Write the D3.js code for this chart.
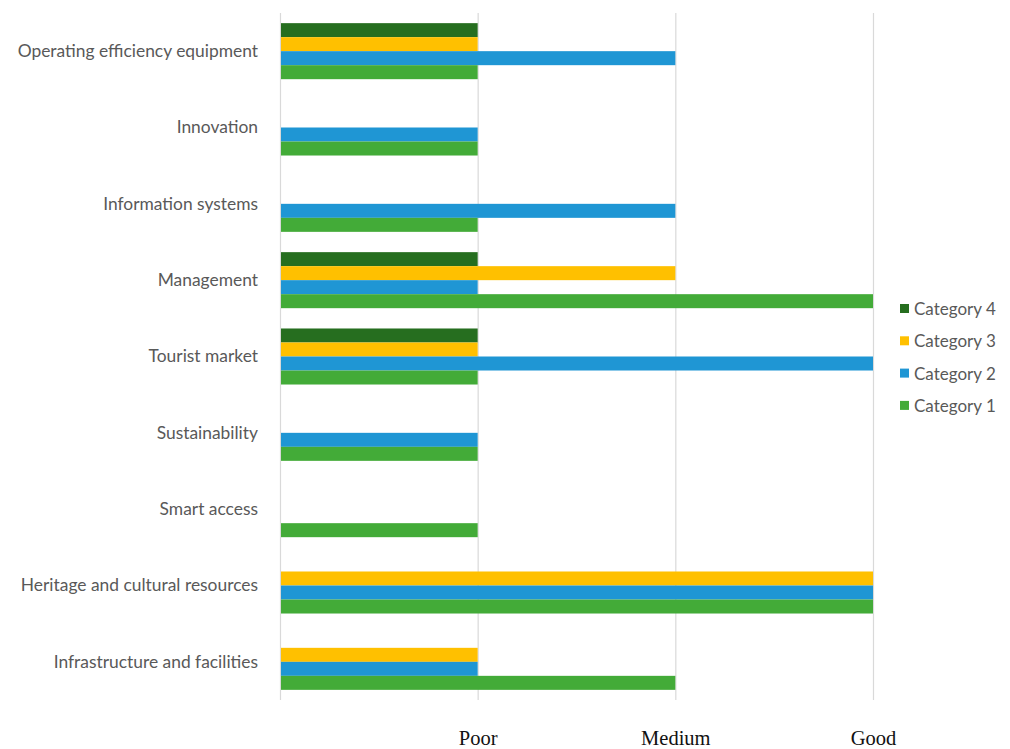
<!DOCTYPE html>
<html>
<head>
<meta charset="utf-8">
<script src="https://cdn.jsdelivr.net/npm/d3@7"></script>
<style>
  body { margin: 0; background: #fff; }
  svg { display: block; }
  .cat-label { font-family: Lato, "Open Sans", sans-serif; font-size: 17.4px; fill: #595959; }
  .legend text { font-family: Lato, "Open Sans", sans-serif; font-size: 17px; fill: #595959; }
  .axis--x text { font-family: "Liberation Serif", "Times New Roman", serif; font-size: 20.5px; fill: #111; }
</style>
</head>
<body>
<svg width="1010" height="749"></svg>
<script>
// categories, top to bottom
var categories = [
  "Operating efficiency equipment",
  "Innovation",
  "Information systems",
  "Management",
  "Tourist market",
  "Sustainability",
  "Smart access",
  "Heritage and cultural resources",
  "Infrastructure and facilities"
];

// 0 = none, 1 = Poor, 2 = Medium, 3 = Good
var category4 = [1, 0, 0, 1, 1, 0, 0, 0, 0];
var category3 = [1, 0, 0, 2, 1, 0, 0, 3, 1];
var category2 = [2, 1, 2, 1, 3, 1, 0, 3, 1];
var category1 = [1, 1, 1, 3, 1, 1, 1, 3, 2];

var seriesNames = ["Category 4", "Category 3", "Category 2", "Category 1"];
var seriesColors = ["#266e1f", "#ffc000", "#1f96d4", "#43ab38"];
var xLabels = ["Poor", "Medium", "Good"];

drawChart();

function drawChart() {
  var svg = d3.select("svg");
  svg.selectAll("*").remove();

  var series = [category4, category3, category2, category1];

  var x = d3.scaleLinear().domain([0, 3]).range([280, 873]);

  var y = d3.scaleBand()
      .domain(categories)
      .range([13, 700])
      .paddingInner(0.266)
      .paddingOuter(0.133);

  var y1 = d3.scaleBand()
      .domain(seriesNames)
      .range([0, y.bandwidth()]);

  // grid lines + bottom labels
  var xAxis = svg.append("g")
      .attr("class", "axis axis--x")
      .attr("transform", "translate(0,700)")
      .call(d3.axisBottom(x)
        .tickValues([0, 1, 2, 3])
        .tickSize(-687)
        .tickPadding(30)
        .tickFormat(function(d) { return d === 0 ? "" : xLabels[d - 1]; }));
  xAxis.select(".domain").remove();
  xAxis.selectAll(".tick line").attr("stroke", "#d9d9d9").attr("stroke-width", 1.2);

  // bars
  var groups = svg.append("g").selectAll("g")
      .data(categories)
      .enter().append("g")
      .attr("transform", function(d) { return "translate(0," + y(d) + ")"; });

  groups.selectAll("rect")
      .data(function(d, i) {
        return seriesNames.map(function(name, s) {
          return { name: name, value: series[s][i], color: seriesColors[s] };
        });
      })
      .enter().append("rect")
      .filter(function(d) { return d.value > 0; })
      .attr("x", x(0) + 1)
      .attr("y", function(d) { return y1(d.name); })
      .attr("width", function(d) { return x(d.value) - x(0) - 1; })
      .attr("height", y1.bandwidth())
      .attr("fill", function(d) { return d.color; });

  // category labels
  svg.append("g").selectAll("text")
      .data(categories)
      .enter().append("text")
      .attr("class", "cat-label")
      .attr("x", 258)
      .attr("y", function(d) { return y(d) + y.bandwidth() / 2; })
      .attr("dy", "0.33em")
      .attr("text-anchor", "end")
      .text(function(d) { return d; });

  // legend
  var legend = svg.append("g")
      .attr("class", "legend")
      .attr("transform", "translate(900,309)");

  var item = legend.selectAll("g")
      .data(seriesNames)
      .enter().append("g")
      .attr("transform", function(d, i) { return "translate(0," + (i * 32.3) + ")"; });

  item.append("rect")
      .attr("x", 0)
      .attr("y", -5)
      .attr("width", 9)
      .attr("height", 9)
      .attr("fill", function(d, i) { return seriesColors[i]; });

  item.append("text")
      .attr("x", 14)
      .attr("y", 0)
      .attr("dy", "0.35em")
      .text(function(d) { return d; });
}
</script>
</body>
</html>
